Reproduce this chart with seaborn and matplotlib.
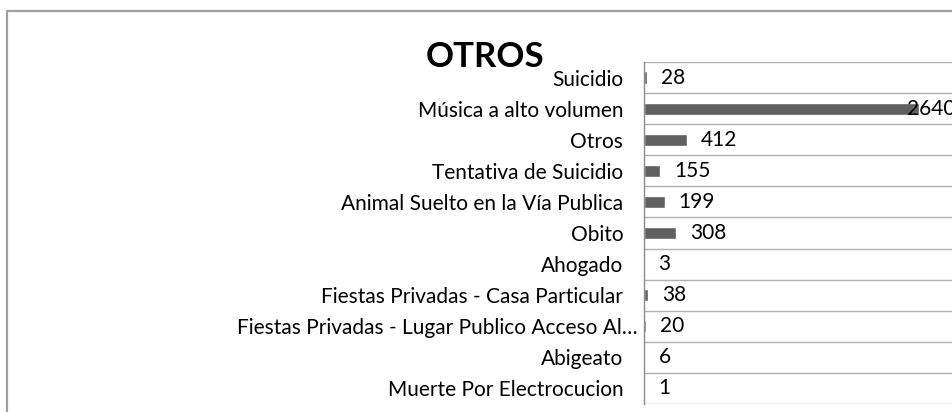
import matplotlib
matplotlib.use("Agg")
import matplotlib.pyplot as plt
import matplotlib.transforms as mtransforms
import seaborn as sns
import pandas as pd
from matplotlib.patches import Rectangle

# Data (top to bottom)
categorias = [
    "Suicidio",
    "Música a alto volumen",
    "Otros",
    "Tentativa de Suicidio",
    "Animal Suelto en la Vía Publica",
    "Obito",
    "Ahogado",
    "Fiestas Privadas - Casa Particular",
    "Fiestas Privadas - Lugar Publico Acceso Al…",
    "Abigeato",
    "Muerte Por Electrocucion",
]
casos = [28, 2640, 412, 155, 199, 308, 3, 38, 20, 6, 1]
titulo = "OTROS"
eje_max = 3000

df = pd.DataFrame({"categoria": categorias, "casos": casos})

sns.set_theme(style="white")
plt.rcParams["font.family"] = ["Lato", "DejaVu Sans"]

fig = plt.figure(figsize=(9.52, 4.12), dpi=100)

# outer chart frame (runs off the right and bottom edges like the original)
fig.patches.append(Rectangle((7 / 952, -0.05), 1.2, 1 - 11 / 412 + 0.05,
                             transform=fig.transFigure, fill=False,
                             edgecolor="#a0a0a0", linewidth=1.6))

ax = fig.add_axes([644 / 952, 8 / 412, 312 / 952, 342 / 412])
sns.barplot(data=df, x="casos", y="categoria", orient="h", color="#606060",
            width=0.39, saturation=1, ax=ax)

ax.set_xlim(0, eje_max)
ax.set_ylim(len(categorias) - 0.5, -0.5)
ax.set_xlabel("")
ax.set_ylabel("")
ax.set_xticks([])

# gridlines between categories
n = len(categorias)
for b in range(n + 1):
    ax.axhline(b - 0.5, color="#b0b0b0", linewidth=1.0, zorder=0)

for s in ["top", "right", "bottom"]:
    ax.spines[s].set_visible(False)
ax.spines["left"].set_color("#8c8c8c")
ax.spines["left"].set_linewidth(1.0)
ax.tick_params(axis="y", length=0, pad=15, labelsize=15, labelcolor="#000000")

# the truncated label runs a bit closer to the axis in the original
for lab in ax.get_yticklabels():
    if lab.get_text().endswith("…"):
        shift = mtransforms.ScaledTranslation(14 / 100, 0, fig.dpi_scale_trans)
        lab.set_transform(lab.get_transform() + shift)

# value labels (the big one is pushed inside the plot area, as in Excel)
for i, v in enumerate(casos):
    if v > 0.85 * eje_max:
        ax.text(eje_max, i, str(v), ha="right", va="center", fontsize=15,
                color="#000000", clip_on=False)
    else:
        ax.annotate(str(v), (v, i), xytext=(10, 0), textcoords="offset points",
                    ha="left", va="center", fontsize=15, color="#000000")

fig.text(485 / 952, 1 - 57 / 412, titulo, ha="center", va="center",
         fontsize=25, fontweight="bold", color="#000000")

fig.savefig("out.png", dpi=100)
